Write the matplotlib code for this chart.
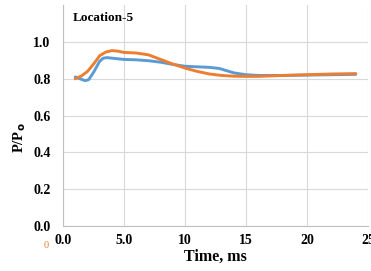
import matplotlib.pyplot as plt

# values
t_blue = [1.0, 1.5, 1.8, 2.1, 2.5, 3.0, 3.3, 3.6, 4.0, 5.0, 6.0, 7.0, 8.0, 9.0, 10.0, 11.0, 12.0, 12.8, 13.5, 14.0, 15.0, 16.0, 18.0, 20.0, 22.0, 24.0]
p_blue = [0.81, 0.797, 0.79, 0.795, 0.835, 0.895, 0.912, 0.915, 0.912, 0.905, 0.903, 0.898, 0.89, 0.878, 0.868, 0.865, 0.862, 0.856, 0.842, 0.832, 0.822, 0.818, 0.818, 0.82, 0.822, 0.824]

t_orange = [1.0, 1.5, 2.0, 2.5, 3.0, 3.5, 4.0, 4.5, 5.0, 6.0, 7.0, 8.0, 9.0, 10.0, 11.0, 12.0, 13.0, 14.0, 15.0, 16.0, 18.0, 20.0, 22.0, 24.0]
p_orange = [0.80, 0.815, 0.84, 0.88, 0.925, 0.945, 0.953, 0.95, 0.943, 0.940, 0.93, 0.905, 0.88, 0.858, 0.84, 0.826, 0.818, 0.814, 0.813, 0.813, 0.818, 0.822, 0.826, 0.828]

xticks = [0, 5, 10, 15, 20, 25]
xtick_labels = ["0.0", "5.0", "10", "15", "20", "25"]
yticks = [0.0, 0.2, 0.4, 0.6, 0.8, 1.0]
ytick_labels = ["0.0", "0.2", "0.4", "0.6", "0.8", "1.0"]

plt.rcParams['font.family'] = ['Liberation Serif', 'DejaVu Serif']
plt.rcParams['font.weight'] = 'bold'

fig = plt.figure(figsize=(3.71, 2.71), dpi=100)
ax = fig.add_axes([0.170, 0.166, 0.822, 0.815])

ax.plot(t_blue, p_blue, color='#5B9BD5', lw=2.1, solid_capstyle='round', solid_joinstyle='round')
ax.plot(t_orange, p_orange, color='#ED7D31', lw=2.1, solid_capstyle='round', solid_joinstyle='round')

ax.set_xlim(0, 25)
ax.set_ylim(0, 1.2)
ax.set_xticks(xticks)
ax.set_xticklabels(xtick_labels, fontsize=10, fontweight='bold')
ax.set_yticks(yticks)
ax.set_yticklabels(ytick_labels, fontsize=10, fontweight='bold')
ax.tick_params(axis='y', length=0, pad=9)
ax.tick_params(axis='x', length=0, pad=6)

ax.grid(True, color='#d9d9d9', lw=0.8)
ax.set_axisbelow(True)
for s in ['top', 'right']:
    ax.spines[s].set_visible(False)
for s in ['left', 'bottom']:
    ax.spines[s].set_color('#bfbfbf')
    ax.spines[s].set_linewidth(0.8)

ax.set_xlabel("Time, ms", fontsize=11.5, fontweight='bold', labelpad=1)
ax.set_ylabel(r"P/P$_\mathbf{o}$", fontsize=10.5, fontweight='bold')
ax.yaxis.set_label_coords(-0.115, 0.4)

ax.text(0.033, 0.94, "Location-5", transform=ax.transAxes, fontsize=9.5, fontweight='bold', va='center')
fig.text(0.118, 0.085, "0", fontsize=7.5, color='#ED7D31', fontweight='normal')

fig.savefig("out.png", dpi=100)
